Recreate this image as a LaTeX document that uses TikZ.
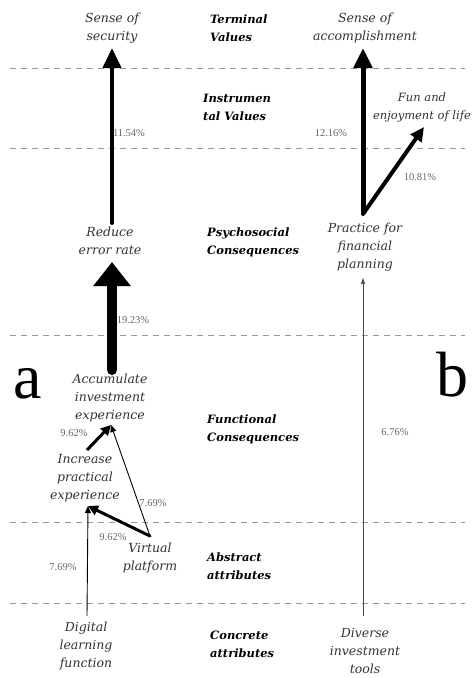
\documentclass[tikz,border=0pt]{standalone}
\usepackage{fontspec}
\setmainfont{DejaVu Serif}
\newfontfamily\pctfont{Liberation Serif}
\usetikzlibrary{arrows.meta}
\begin{document}
\begin{tikzpicture}[x=1pt,y=-1pt,
  item/.style={font=\itshape\fontsize{12.5}{18}\selectfont, align=center, text=black!80, inner sep=1pt},
  level/.style={font=\bfseries\itshape\fontsize{11.5}{18}\selectfont, align=left, inner sep=0pt, anchor=west},
  pct/.style={font=\pctfont\fontsize{10.5}{12}\selectfont, text=black!60, inner sep=0pt},
  sep/.style={dashed, draw=black!40, line width=1pt, dash pattern=on 6pt off 5pt},
  big/.style={font=\pctfont\fontsize{64}{64}\selectfont, inner sep=0pt}]
\useasboundingbox (0,0) rectangle (473,678);
\fill[white] (0,0) rectangle (473,678);
% separators
\foreach \yy in {68,148,335,522,603} \draw[sep] (10,\yy) -- (465,\yy);
% level labels
\node[level] (lt) at (210,28) {Terminal\\Values};
\node[level] (li) at (203,107) {Instrumen\\tal Values};
\node[level] (lp) at (207,242) {Psychosocial\\Consequences};
\node[level] (lf) at (207,429) {Functional\\Consequences};
\node[level] (la) at (207,566) {Abstract\\attributes};
\node[level] (lc) at (210,644) {Concrete\\attributes};
% a, b
\node[big] (ta) at (28,384) {a};
\node[big] (tb) at (452,375) {b};
% left chain
\node[item] (sos) at (112,28) {Sense of\\security};
\node[item] (rer) at (110,241) {Reduce\\error rate};
\node[item] (acc) at (110,398) {Accumulate\\investment\\experience};
\node[item] (inc) at (85,478) {Increase\\practical\\experience};
\node[item] (vp) at (150,558) {Virtual\\platform};
\node[item] (dlf) at (86,646) {Digital\\learning\\function};
% right chain
\node[item] (soa) at (365,28) {Sense of\\accomplishment};
\node[item, font=\itshape\fontsize{11.5}{18}\selectfont] (fun) at (422,107) {Fun and\\enjoyment of life};
\node[item] (pfp) at (365,247) {Practice for\\financial\\planning};
\node[item] (dit) at (365,651) {Diverse\\investment\\tools};
% connector end points
\coordinate (rerTop) at (112,223);
\coordinate (rerBot) at (112,262);
\coordinate (accTop) at (112,370);
\coordinate (accBot) at (111,425);
\coordinate (incTop) at (87,450);
\coordinate (incBot) at (88,506);
\coordinate (vpTop) at (150,536);
\coordinate (dlfTop) at (87,616);
\coordinate (pfpTop) at (363,214);
\coordinate (pfpBot) at (363,278);
\coordinate (ditTop) at (363,616);
\coordinate (sosBot) at (112,48);
\coordinate (soaBot) at (363,48);
\coordinate (funBot) at (424,127);
% arrows
\draw[line width=4pt, line cap=round, -{Triangle[width=18pt,length=20pt]}] (rerTop) -- (sosBot);
\draw[line width=10pt, line cap=round, -{Triangle[width=36pt,length=24pt]}] (accTop) -- (rerBot);
\draw[line width=3pt, -{Triangle[width=10pt,length=10pt]}] (incTop) -- (accBot);
\draw[line width=0.9pt, -{Triangle[width=6pt,length=7pt]}] (vpTop) -- (accBot);
\draw[line width=3pt, line cap=round, -{Triangle[width=10pt,length=10pt]}] (vpTop) -- (incBot);
\draw[line width=0.9pt, -{Triangle[width=6pt,length=7pt]}] (dlfTop) -- (incBot);
\draw[line width=5pt, line join=round, -{Triangle[width=18pt,length=20pt]}] (pfpTop) -- (soaBot);
\draw[line width=4pt, line cap=round, -{Triangle[width=13pt,length=14pt]}] (pfpTop) -- (funBot);
\draw[line width=0.6pt, draw=black!70, -{Triangle[width=4pt,length=6pt]}] (ditTop) -- (pfpBot);
% percentages
\node[pct] (p1) at (129,133) {11.54\%};
\node[pct] (p2) at (331,133) {12.16\%};
\node[pct] (p3) at (420,177) {10.81\%};
\node[pct] (p4) at (133,320) {19.23\%};
\node[pct] (p5) at (74,433) {9.62\%};
\node[pct] (p6) at (153,503) {7.69\%};
\node[pct] (p7) at (113,537) {9.62\%};
\node[pct] (p8) at (63,567) {7.69\%};
\node[pct] (p9) at (395,432) {6.76\%};
\end{tikzpicture}
\end{document}
